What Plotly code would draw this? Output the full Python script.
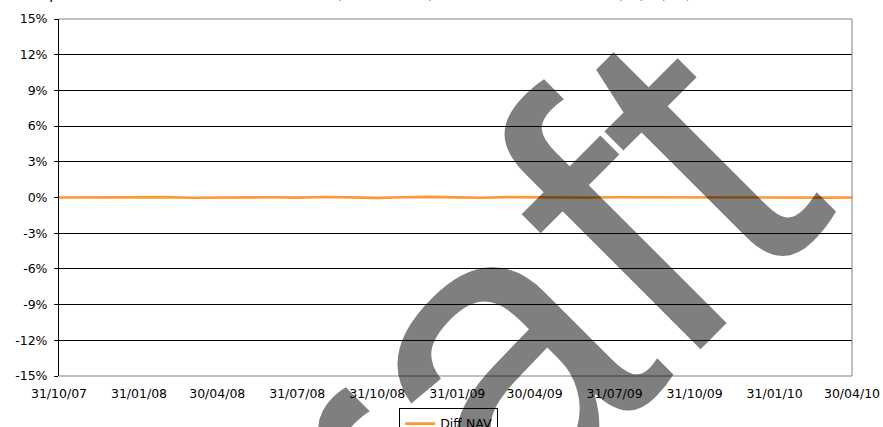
import plotly.graph_objects as go

# ---- data ----
dates = ["2007-10-31", "2007-11-30", "2007-12-31",
         "2008-01-31", "2008-02-29", "2008-03-31", "2008-04-30", "2008-05-31", "2008-06-30",
         "2008-07-31", "2008-08-31", "2008-09-30", "2008-10-31", "2008-11-30", "2008-12-31",
         "2009-01-31", "2009-02-28", "2009-03-31", "2009-04-30", "2009-05-31", "2009-06-30",
         "2009-07-31", "2009-08-31", "2009-09-30", "2009-10-31", "2009-11-30", "2009-12-31",
         "2010-01-31", "2010-02-28", "2010-03-31", "2010-04-30"]
diff_nav = [0.0000, 0.0002, -0.0001, 0.0001, 0.0003, -0.0002, 0.0001, 0.0000, 0.0002, -0.0001,
            0.0004, 0.0001, -0.0003, 0.0002, 0.0005, 0.0001, -0.0002, 0.0003, 0.0000, 0.0001,
            -0.0001, 0.0002, 0.0001, 0.0000, -0.0001, 0.0002, 0.0001, 0.0000, 0.0001, -0.0001,
            0.0000]
series_name = "Diff NAV"

x_tick_vals = ["2007-10-31", "2008-01-31", "2008-04-30", "2008-07-31", "2008-10-31",
               "2009-01-31", "2009-04-30", "2009-07-31", "2009-10-31", "2010-01-31", "2010-04-30"]
x_tick_text = ["31/10/07", "31/01/08", "30/04/08", "31/07/08", "31/10/08",
               "31/01/09", "30/04/09", "31/07/09", "31/10/09", "31/01/10", "30/04/10"]
y_tick_vals = [-0.15, -0.12, -0.09, -0.06, -0.03, 0.0, 0.03, 0.06, 0.09, 0.12, 0.15]
y_tick_text = ["-15%", "-12%", "-9%", "-6%", "-3%", "0%", "3%", "6%", "9%", "12%", "15%"]

title_text = "Graph 1: Historical difference to benchmark (Fund - Index) for the fund since launch (31/10/07)"
watermark = "Draft"

FONT = "DejaVu Sans"
FS = 12.5

fig = go.Figure()
fig.add_trace(go.Scatter(x=dates, y=diff_nav, mode="lines", name=series_name,
                         line=dict(color="#FF9933", width=2.6), showlegend=True))

fig.update_layout(
    width=883, height=427,
    margin=dict(l=59, r=31, t=19, b=51, autoexpand=False),
    paper_bgcolor="white", plot_bgcolor="white",
    font=dict(family=FONT, size=FS, color="black"),
    xaxis=dict(type="date", range=[dates[0], dates[-1]],
               tickmode="array", tickvals=x_tick_vals, ticktext=x_tick_text,
               ticks="", showline=False, showgrid=False, zeroline=False,
               tickfont=dict(family=FONT, size=FS, color="black"),
               ticklabelstandoff=8),
    xaxis2=dict(type="date", range=[dates[0], dates[-1]], overlaying="x",
                anchor="free", position=0.5,
                tickmode="array", tickvals=x_tick_vals,
                ticks="outside", ticklen=4, tickcolor="black", tickwidth=1,
                showline=True, linecolor="black", linewidth=1,
                showticklabels=False, showgrid=False, zeroline=False,
                layer="below traces"),
    yaxis=dict(range=[-0.15, 0.15], tickmode="array", tickvals=y_tick_vals,
               ticktext=y_tick_text, showgrid=True, gridcolor="black", gridwidth=1,
               zeroline=False, showline=True, linecolor="black", linewidth=1,
               ticks="outside", ticklen=4, tickcolor="black",
               tickfont=dict(family=FONT, size=FS, color="black"),
               ticklabelstandoff=4),
    legend=dict(x=0.429, y=-0.0896, xanchor="left", yanchor="top",
                bordercolor="black", borderwidth=1, bgcolor="rgba(0,0,0,0)",
                font=dict(family=FONT, size=FS, color="black")),
    shapes=[dict(type="path", xref="paper", yref="paper",
                 path="M 0,1 L 1,1 L 1,0 L 0,0",
                 line=dict(color="#808080", width=1), layer="above")],
    annotations=[
        dict(text=title_text, xref="paper", yref="paper", x=-0.0467, y=1.042,
             xanchor="left", yanchor="bottom", showarrow=False,
             font=dict(family=FONT, size=14, color="black")),
        dict(text=watermark, xref="paper", yref="paper", x=0.4494, y=-0.1462,
             xanchor="center", yanchor="middle", showarrow=False, textangle=-45,
             font=dict(family="Liberation Sans, Arial", size=420,
                       color="rgba(0,0,0,0.5)")),
    ],
)

fig.write_html("out.html")
